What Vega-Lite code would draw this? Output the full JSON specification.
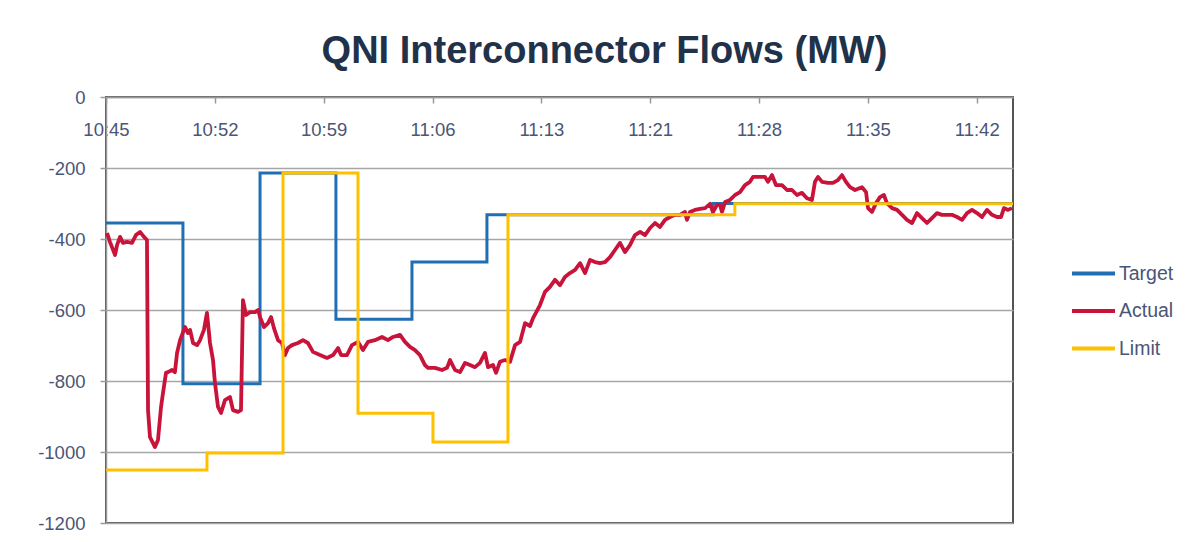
{
  "$schema": "https://vega.github.io/schema/vega-lite/v6.json",
  "width": 907,
  "height": 426,
  "autosize": {"type": "none"},
  "padding": {"left": 106, "top": 97, "right": 187, "bottom": 19},
  "background": "white",
  "title": {
    "text": "QNI Interconnector Flows (MW)",
    "font": "Liberation Sans",
    "fontSize": 38,
    "fontWeight": "bold",
    "color": "#1f3249",
    "anchor": "middle",
    "dx": 45,
    "offset": 17
  },
  "data": {
    "values": [
      {"series": "Target", "minute": 0, "mw": -355},
      {"series": "Target", "minute": 5.09, "mw": -808},
      {"series": "Target", "minute": 10.19, "mw": -214},
      {"series": "Target", "minute": 15.21, "mw": -626},
      {"series": "Target", "minute": 20.24, "mw": -465},
      {"series": "Target", "minute": 25.2, "mw": -332},
      {"series": "Target", "minute": 40.15, "mw": -300},
      {"series": "Target", "minute": 60, "mw": -300},
      {"series": "Limit", "minute": 0, "mw": -1051},
      {"series": "Limit", "minute": 6.68, "mw": -1003},
      {"series": "Limit", "minute": 11.71, "mw": -214},
      {"series": "Limit", "minute": 16.67, "mw": -891},
      {"series": "Limit", "minute": 21.63, "mw": -972},
      {"series": "Limit", "minute": 26.59, "mw": -332},
      {"series": "Limit", "minute": 41.6, "mw": -301},
      {"series": "Limit", "minute": 60, "mw": -301},
      {"series": "Actual", "minute": 0.07, "mw": -383},
      {"series": "Actual", "minute": 0.26, "mw": -408},
      {"series": "Actual", "minute": 0.6, "mw": -445},
      {"series": "Actual", "minute": 0.73, "mw": -417},
      {"series": "Actual", "minute": 0.93, "mw": -394},
      {"series": "Actual", "minute": 1.12, "mw": -411},
      {"series": "Actual", "minute": 1.39, "mw": -408},
      {"series": "Actual", "minute": 1.72, "mw": -411},
      {"series": "Actual", "minute": 1.98, "mw": -389},
      {"series": "Actual", "minute": 2.25, "mw": -380},
      {"series": "Actual", "minute": 2.51, "mw": -394},
      {"series": "Actual", "minute": 2.71, "mw": -403},
      {"series": "Actual", "minute": 2.78, "mw": -882},
      {"series": "Actual", "minute": 2.91, "mw": -958},
      {"series": "Actual", "minute": 3.24, "mw": -986},
      {"series": "Actual", "minute": 3.44, "mw": -966},
      {"series": "Actual", "minute": 3.64, "mw": -873},
      {"series": "Actual", "minute": 3.77, "mw": -834},
      {"series": "Actual", "minute": 3.97, "mw": -777},
      {"series": "Actual", "minute": 4.1, "mw": -775},
      {"series": "Actual", "minute": 4.37, "mw": -769},
      {"series": "Actual", "minute": 4.56, "mw": -775},
      {"series": "Actual", "minute": 4.7, "mw": -721},
      {"series": "Actual", "minute": 4.9, "mw": -685},
      {"series": "Actual", "minute": 5.03, "mw": -670},
      {"series": "Actual", "minute": 5.23, "mw": -648},
      {"series": "Actual", "minute": 5.42, "mw": -665},
      {"series": "Actual", "minute": 5.56, "mw": -656},
      {"series": "Actual", "minute": 5.76, "mw": -693},
      {"series": "Actual", "minute": 6.02, "mw": -699},
      {"series": "Actual", "minute": 6.22, "mw": -685},
      {"series": "Actual", "minute": 6.48, "mw": -656},
      {"series": "Actual", "minute": 6.68, "mw": -608},
      {"series": "Actual", "minute": 6.88, "mw": -693},
      {"series": "Actual", "minute": 7.08, "mw": -741},
      {"series": "Actual", "minute": 7.21, "mw": -806},
      {"series": "Actual", "minute": 7.41, "mw": -873},
      {"series": "Actual", "minute": 7.61, "mw": -890},
      {"series": "Actual", "minute": 7.87, "mw": -854},
      {"series": "Actual", "minute": 8.2, "mw": -845},
      {"series": "Actual", "minute": 8.4, "mw": -882},
      {"series": "Actual", "minute": 8.73, "mw": -887},
      {"series": "Actual", "minute": 8.93, "mw": -882},
      {"series": "Actual", "minute": 9.06, "mw": -572},
      {"series": "Actual", "minute": 9.26, "mw": -614},
      {"series": "Actual", "minute": 9.53, "mw": -606},
      {"series": "Actual", "minute": 9.86, "mw": -606},
      {"series": "Actual", "minute": 10.06, "mw": -600},
      {"series": "Actual", "minute": 10.19, "mw": -620},
      {"series": "Actual", "minute": 10.45, "mw": -648},
      {"series": "Actual", "minute": 10.72, "mw": -637},
      {"series": "Actual", "minute": 10.92, "mw": -620},
      {"series": "Actual", "minute": 11.11, "mw": -651},
      {"series": "Actual", "minute": 11.38, "mw": -685},
      {"series": "Actual", "minute": 11.64, "mw": -693},
      {"series": "Actual", "minute": 11.84, "mw": -727},
      {"series": "Actual", "minute": 12.04, "mw": -707},
      {"series": "Actual", "minute": 12.3, "mw": -699},
      {"series": "Actual", "minute": 12.7, "mw": -693},
      {"series": "Actual", "minute": 13.03, "mw": -685},
      {"series": "Actual", "minute": 13.36, "mw": -693},
      {"series": "Actual", "minute": 13.69, "mw": -718},
      {"series": "Actual", "minute": 14.16, "mw": -727},
      {"series": "Actual", "minute": 14.62, "mw": -735},
      {"series": "Actual", "minute": 15.02, "mw": -727},
      {"series": "Actual", "minute": 15.35, "mw": -707},
      {"series": "Actual", "minute": 15.55, "mw": -727},
      {"series": "Actual", "minute": 15.94, "mw": -727},
      {"series": "Actual", "minute": 16.27, "mw": -699},
      {"series": "Actual", "minute": 16.67, "mw": -690},
      {"series": "Actual", "minute": 17.0, "mw": -713},
      {"series": "Actual", "minute": 17.33, "mw": -690},
      {"series": "Actual", "minute": 17.79, "mw": -685},
      {"series": "Actual", "minute": 18.26, "mw": -676},
      {"series": "Actual", "minute": 18.65, "mw": -685},
      {"series": "Actual", "minute": 18.99, "mw": -676},
      {"series": "Actual", "minute": 19.45, "mw": -670},
      {"series": "Actual", "minute": 19.78, "mw": -690},
      {"series": "Actual", "minute": 20.11, "mw": -704},
      {"series": "Actual", "minute": 20.44, "mw": -713},
      {"series": "Actual", "minute": 20.77, "mw": -727},
      {"series": "Actual", "minute": 21.1, "mw": -755},
      {"series": "Actual", "minute": 21.3, "mw": -763},
      {"series": "Actual", "minute": 21.76, "mw": -763},
      {"series": "Actual", "minute": 22.23, "mw": -769},
      {"series": "Actual", "minute": 22.56, "mw": -763},
      {"series": "Actual", "minute": 22.76, "mw": -741},
      {"series": "Actual", "minute": 23.09, "mw": -769},
      {"series": "Actual", "minute": 23.42, "mw": -775},
      {"series": "Actual", "minute": 23.75, "mw": -749},
      {"series": "Actual", "minute": 24.08, "mw": -755},
      {"series": "Actual", "minute": 24.41, "mw": -761},
      {"series": "Actual", "minute": 24.74, "mw": -749},
      {"series": "Actual", "minute": 25.07, "mw": -721},
      {"series": "Actual", "minute": 25.27, "mw": -761},
      {"series": "Actual", "minute": 25.6, "mw": -755},
      {"series": "Actual", "minute": 25.8, "mw": -777},
      {"series": "Actual", "minute": 26.06, "mw": -746},
      {"series": "Actual", "minute": 26.39, "mw": -741},
      {"series": "Actual", "minute": 26.73, "mw": -746},
      {"series": "Actual", "minute": 27.06, "mw": -699},
      {"series": "Actual", "minute": 27.39, "mw": -690},
      {"series": "Actual", "minute": 27.72, "mw": -637},
      {"series": "Actual", "minute": 28.05, "mw": -645},
      {"series": "Actual", "minute": 28.25, "mw": -623},
      {"series": "Actual", "minute": 28.71, "mw": -586},
      {"series": "Actual", "minute": 29.04, "mw": -549},
      {"series": "Actual", "minute": 29.37, "mw": -535},
      {"series": "Actual", "minute": 29.7, "mw": -515},
      {"series": "Actual", "minute": 30.03, "mw": -530},
      {"series": "Actual", "minute": 30.36, "mw": -507},
      {"series": "Actual", "minute": 30.69, "mw": -496},
      {"series": "Actual", "minute": 31.03, "mw": -487},
      {"series": "Actual", "minute": 31.36, "mw": -468},
      {"series": "Actual", "minute": 31.69, "mw": -496},
      {"series": "Actual", "minute": 32.02, "mw": -459},
      {"series": "Actual", "minute": 32.35, "mw": -465},
      {"series": "Actual", "minute": 32.68, "mw": -468},
      {"series": "Actual", "minute": 33.01, "mw": -465},
      {"series": "Actual", "minute": 33.34, "mw": -451},
      {"series": "Actual", "minute": 33.67, "mw": -431},
      {"series": "Actual", "minute": 34.0, "mw": -411},
      {"series": "Actual", "minute": 34.33, "mw": -437},
      {"series": "Actual", "minute": 34.66, "mw": -417},
      {"series": "Actual", "minute": 34.99, "mw": -389},
      {"series": "Actual", "minute": 35.33, "mw": -380},
      {"series": "Actual", "minute": 35.66, "mw": -389},
      {"series": "Actual", "minute": 35.99, "mw": -369},
      {"series": "Actual", "minute": 36.32, "mw": -355},
      {"series": "Actual", "minute": 36.65, "mw": -366},
      {"series": "Actual", "minute": 36.98, "mw": -346},
      {"series": "Actual", "minute": 37.31, "mw": -338},
      {"series": "Actual", "minute": 37.64, "mw": -332},
      {"series": "Actual", "minute": 37.97, "mw": -332},
      {"series": "Actual", "minute": 38.3, "mw": -324},
      {"series": "Actual", "minute": 38.43, "mw": -346},
      {"series": "Actual", "minute": 38.63, "mw": -324},
      {"series": "Actual", "minute": 38.96, "mw": -318},
      {"series": "Actual", "minute": 39.29, "mw": -315},
      {"series": "Actual", "minute": 39.63, "mw": -313},
      {"series": "Actual", "minute": 39.96, "mw": -301},
      {"series": "Actual", "minute": 40.15, "mw": -324},
      {"series": "Actual", "minute": 40.42, "mw": -304},
      {"series": "Actual", "minute": 40.62, "mw": -304},
      {"series": "Actual", "minute": 40.75, "mw": -324},
      {"series": "Actual", "minute": 40.95, "mw": -296},
      {"series": "Actual", "minute": 41.28, "mw": -290},
      {"series": "Actual", "minute": 41.61, "mw": -276},
      {"series": "Actual", "minute": 41.94, "mw": -268},
      {"series": "Actual", "minute": 42.27, "mw": -248},
      {"series": "Actual", "minute": 42.6, "mw": -239},
      {"series": "Actual", "minute": 42.8, "mw": -225},
      {"series": "Actual", "minute": 43.26, "mw": -225},
      {"series": "Actual", "minute": 43.59, "mw": -225},
      {"series": "Actual", "minute": 43.79, "mw": -239},
      {"series": "Actual", "minute": 44.06, "mw": -220},
      {"series": "Actual", "minute": 44.32, "mw": -248},
      {"series": "Actual", "minute": 44.72, "mw": -248},
      {"series": "Actual", "minute": 45.05, "mw": -262},
      {"series": "Actual", "minute": 45.38, "mw": -262},
      {"series": "Actual", "minute": 45.71, "mw": -276},
      {"series": "Actual", "minute": 46.04, "mw": -270},
      {"series": "Actual", "minute": 46.37, "mw": -285},
      {"series": "Actual", "minute": 46.7, "mw": -290},
      {"series": "Actual", "minute": 46.9, "mw": -239},
      {"series": "Actual", "minute": 47.1, "mw": -225},
      {"series": "Actual", "minute": 47.37, "mw": -239},
      {"series": "Actual", "minute": 47.76, "mw": -242},
      {"series": "Actual", "minute": 48.09, "mw": -242},
      {"series": "Actual", "minute": 48.42, "mw": -234},
      {"series": "Actual", "minute": 48.69, "mw": -220},
      {"series": "Actual", "minute": 48.95, "mw": -239},
      {"series": "Actual", "minute": 49.22, "mw": -254},
      {"series": "Actual", "minute": 49.55, "mw": -262},
      {"series": "Actual", "minute": 50.01, "mw": -254},
      {"series": "Actual", "minute": 50.28, "mw": -268},
      {"series": "Actual", "minute": 50.41, "mw": -313},
      {"series": "Actual", "minute": 50.67, "mw": -324},
      {"series": "Actual", "minute": 50.94, "mw": -299},
      {"series": "Actual", "minute": 51.2, "mw": -282},
      {"series": "Actual", "minute": 51.46, "mw": -276},
      {"series": "Actual", "minute": 51.66, "mw": -299},
      {"series": "Actual", "minute": 52.0, "mw": -313},
      {"series": "Actual", "minute": 52.33, "mw": -318},
      {"series": "Actual", "minute": 52.66, "mw": -332},
      {"series": "Actual", "minute": 52.99, "mw": -346},
      {"series": "Actual", "minute": 53.32, "mw": -355},
      {"series": "Actual", "minute": 53.65, "mw": -327},
      {"series": "Actual", "minute": 53.98, "mw": -341},
      {"series": "Actual", "minute": 54.31, "mw": -355},
      {"series": "Actual", "minute": 54.64, "mw": -341},
      {"series": "Actual", "minute": 54.97, "mw": -327},
      {"series": "Actual", "minute": 55.3, "mw": -332},
      {"series": "Actual", "minute": 55.63, "mw": -332},
      {"series": "Actual", "minute": 55.96, "mw": -332},
      {"series": "Actual", "minute": 56.3, "mw": -338},
      {"series": "Actual", "minute": 56.63, "mw": -346},
      {"series": "Actual", "minute": 56.96, "mw": -327},
      {"series": "Actual", "minute": 57.29, "mw": -318},
      {"series": "Actual", "minute": 57.62, "mw": -327},
      {"series": "Actual", "minute": 57.95, "mw": -338},
      {"series": "Actual", "minute": 58.28, "mw": -318},
      {"series": "Actual", "minute": 58.61, "mw": -332},
      {"series": "Actual", "minute": 58.94, "mw": -338},
      {"series": "Actual", "minute": 59.21, "mw": -338},
      {"series": "Actual", "minute": 59.4, "mw": -313},
      {"series": "Actual", "minute": 59.67, "mw": -318},
      {"series": "Actual", "minute": 59.93, "mw": -313}
    ]
  },
  "encoding": {
    "x": {
      "field": "minute",
      "type": "quantitative",
      "scale": {"domain": [0, 60], "nice": false, "zero": false},
      "axis": {
        "orient": "bottom",
        "offset": -426,
        "title": null,
        "grid": false,
        "values": [0, 7.2, 14.4, 21.6, 28.8, 36, 43.2, 50.4, 57.6],
        "labelExpr": "floor((645+datum.value)/60) + ':' + (floor((645+datum.value)%60) < 10 ? '0' : '') + floor((645+datum.value)%60)",
        "labelFlush": false,
        "labelOverlap": false,
        "labelFont": "Liberation Sans",
        "labelFontSize": 18.5,
        "labelColor": "#4b5577",
        "labelPadding": 17.5,
        "tickSize": 6,
        "tickColor": "#999999",
        "tickWidth": 1.5,
        "domainColor": "#999999",
        "domainWidth": 1.5
      }
    },
    "y": {
      "field": "mw",
      "type": "quantitative",
      "scale": {"domain": [-1200, 0], "nice": false},
      "axis": {
        "title": null,
        "values": [0, -200, -400, -600, -800, -1000, -1200],
        "labelExpr": "'' + datum.value",
        "grid": true,
        "gridColor": "#a6a6a6",
        "gridWidth": 1.5,
        "labelFont": "Liberation Sans",
        "labelFontSize": 18.5,
        "labelColor": "#4b5577",
        "labelPadding": 15,
        "labelFlush": false,
        "tickSize": 6,
        "tickColor": "#999999",
        "tickWidth": 1.5,
        "domainColor": "#999999",
        "domainWidth": 1.5
      }
    },
    "color": {
      "field": "series",
      "type": "nominal",
      "scale": {"domain": ["Target", "Actual", "Limit"], "range": ["#1f6fb2", "#c8143a", "#ffc000"]},
      "legend": {
        "title": null,
        "orient": "none",
        "legendX": 964,
        "legendY": 153,
        "symbolType": "stroke",
        "symbolStrokeWidth": 4,
        "symbolSize": 1849,
        "labelFont": "Liberation Sans",
        "labelFontSize": 19.5,
        "labelColor": "#4b5577",
        "labelOffset": 2,
        "rowPadding": 4.5,
        "padding": 0
      }
    }
  },
  "layer": [
    {
      "transform": [{"filter": "datum.series === 'Target'"}],
      "mark": {"type": "line", "interpolate": "step-after", "strokeWidth": 3}
    },
    {
      "transform": [{"filter": "datum.series === 'Actual'"}],
      "mark": {"type": "line", "strokeWidth": 3.8, "strokeJoin": "round"}
    },
    {
      "transform": [{"filter": "datum.series === 'Limit'"}],
      "mark": {"type": "line", "interpolate": "step-after", "strokeWidth": 3}
    }
  ],
  "config": {
    "view": {"stroke": "#555555", "strokeWidth": 2}
  }
}
